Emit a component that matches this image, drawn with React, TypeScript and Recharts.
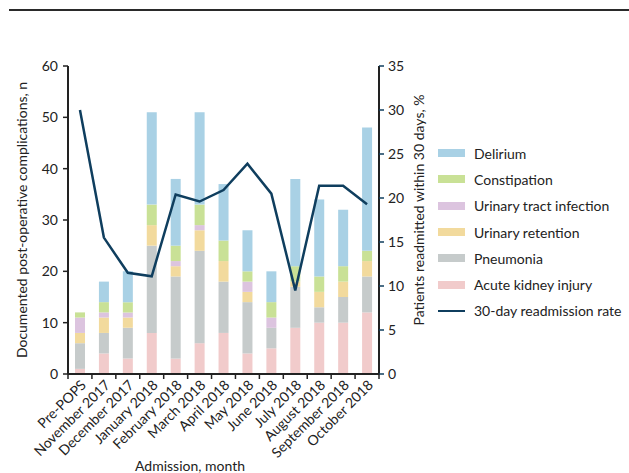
import React from 'react'
import { ComposedChart, Bar, Line, XAxis, YAxis } from 'recharts'

const months = [
  'Pre-POPS',
  'November 2017',
  'December 2017',
  'January 2018',
  'February 2018',
  'March 2018',
  'April 2018',
  'May 2018',
  'June 2018',
  'July 2018',
  'August 2018',
  'September 2018',
  'October 2018',
]

// stacked bottom -> top
const akiValues = [1, 4, 3, 8, 3, 6, 8, 4, 5, 9, 10, 10, 12]
const pneumoniaValues = [5, 4, 6, 17, 16, 18, 10, 10, 4, 8, 3, 5, 7]
const retentionValues = [2, 3, 2, 4, 2, 4, 4, 2, 0, 1, 3, 3, 3]
const utiValues = [3, 1, 1, 0, 1, 1, 0, 2, 2, 0, 0, 0, 0]
const constipationValues = [1, 2, 2, 4, 3, 4, 4, 2, 3, 3, 3, 3, 2]
const deliriumValues = [0, 4, 6, 18, 13, 18, 11, 8, 6, 17, 15, 11, 24]
const readmissionRate = [30, 15.5, 11.5, 11.1, 20.4, 19.6, 20.9, 23.9, 20.5, 9.5, 21.4, 21.4, 19.3]

const leftTicks = [0, 10, 20, 30, 40, 50, 60]
const rightTicks = [0, 5, 10, 15, 20, 25, 30, 35]

const series = [
  { key: 'delirium', name: 'Delirium', color: '#a9d1e5' },
  { key: 'constipation', name: 'Constipation', color: '#c9e196' },
  { key: 'uti', name: 'Urinary tract infection', color: '#dcc4df' },
  { key: 'retention', name: 'Urinary retention', color: '#f2da9d' },
  { key: 'pneumonia', name: 'Pneumonia', color: '#c6cbcb' },
  { key: 'aki', name: 'Acute kidney injury', color: '#f1cbcb' },
]

const data = months.map((m, i) => ({
  month: m,
  aki: akiValues[i],
  pneumonia: pneumoniaValues[i],
  retention: retentionValues[i],
  uti: utiValues[i],
  constipation: constipationValues[i],
  delirium: deliriumValues[i],
  rate: readmissionRate[i],
}))

const FONT = 'Lato, "Open Sans", sans-serif'
const LINE_COLOR = '#0f3e5e'
const PLOT_LEFT = 68
const PLOT_RIGHT = 379
const PLOT_TOP = 66
const PLOT_BOTTOM = 374
const band = (PLOT_RIGHT - PLOT_LEFT) / months.length

function MonthTick(props: any) {
  const { x, payload, index } = props
  const ty = PLOT_BOTTOM + 12
  return (
    <g>
      <line x1={x - band / 2} x2={x - band / 2} y1={PLOT_BOTTOM} y2={PLOT_BOTTOM + 5} stroke="#222" strokeWidth={1.5} />
      {index === months.length - 1 && (
        <line x1={x + band / 2} x2={x + band / 2} y1={PLOT_BOTTOM} y2={PLOT_BOTTOM + 5} stroke="#222" strokeWidth={1.5} />
      )}
      <text
        x={x + 7}
        y={ty}
        textAnchor="end"
        fontSize={14}
        fill="#222"
        fontFamily={FONT}
        transform={`rotate(-45, ${x + 7}, ${ty})`}
      >
        {payload.value}
      </text>
    </g>
  )
}

export default function App() {
  return (
    <div style={{ position: 'absolute', left: 0, top: 0, width: 629, height: 473, background: '#fff', fontFamily: FONT }}>
      <div style={{ position: 'absolute', left: 9, top: 9, width: 620, height: 2, background: '#2a2a2a' }} />
      <ComposedChart
        width={629}
        height={473}
        data={data}
        margin={{ top: PLOT_TOP, left: 28, right: 210, bottom: 19 }}
        barCategoryGap={0}
      >
        <XAxis
          dataKey="month"
          interval={0}
          height={80}
          tickLine={false}
          axisLine={{ stroke: '#222', strokeWidth: 2 }}
          tick={<MonthTick />}
          label={{
            content: () => (
              <text x={190} y={471} textAnchor="middle" fontSize={14} fill="#222" fontFamily={FONT}>
                Admission, month
              </text>
            ),
          }}
        />
        <YAxis
          yAxisId="left"
          width={40}
          domain={[0, 60]}
          ticks={leftTicks}
          tickSize={5}
          tickMargin={5}
          axisLine={{ stroke: '#222', strokeWidth: 2 }}
          tickLine={{ stroke: '#222', strokeWidth: 1.5 }}
          tick={{ fontSize: 14, fill: '#222', fontFamily: FONT }}
          label={{
            content: () => (
              <text
                x={27}
                y={220}
                textAnchor="middle"
                fontSize={14}
                fill="#222"
                fontFamily={FONT}
                transform="rotate(-90, 27, 220)"
              >
                Documented post-operative complications, n
              </text>
            ),
          }}
        />
        <YAxis
          yAxisId="right"
          orientation="right"
          width={40}
          domain={[0, 35]}
          ticks={rightTicks}
          tickSize={5}
          tickMargin={4}
          axisLine={{ stroke: '#222', strokeWidth: 2 }}
          tickLine={{ stroke: LINE_COLOR, strokeWidth: 1.5 }}
          tick={{ fontSize: 14, fill: '#222', fontFamily: FONT }}
          label={{
            content: () => (
              <text
                x={424}
                y={210}
                textAnchor="middle"
                fontSize={14}
                fill="#222"
                fontFamily={FONT}
                transform="rotate(-90, 424, 210)"
              >
                Patients readmitted within 30 days, %
              </text>
            ),
          }}
        />
        {[...series].reverse().map((s) => (
          <Bar
            key={s.key}
            yAxisId="left"
            dataKey={s.key}
            name={s.name}
            stackId="c"
            fill={s.color}
            barSize={10}
            isAnimationActive={false}
          />
        ))}
        <Line
          yAxisId="right"
          dataKey="rate"
          type="linear"
          stroke={LINE_COLOR}
          strokeWidth={2.5}
          dot={false}
          activeDot={false}
          isAnimationActive={false}
        />
      </ComposedChart>
      <div style={{ position: 'absolute', left: 438, top: 140 }}>
        {series.map((s) => (
          <div key={s.key} style={{ display: 'flex', alignItems: 'center', height: 26.3 }}>
            <div style={{ width: 27, height: 8, background: s.color, marginRight: 9 }} />
            <span style={{ fontSize: 14, color: '#222', whiteSpace: 'nowrap' }}>{s.name}</span>
          </div>
        ))}
        <div style={{ display: 'flex', alignItems: 'center', height: 26.3 }}>
          <div style={{ width: 27, height: 2.5, background: LINE_COLOR, marginRight: 9 }} />
          <span style={{ fontSize: 14, color: '#222', whiteSpace: 'nowrap' }}>30-day readmission rate</span>
        </div>
      </div>
    </div>
  )
}
